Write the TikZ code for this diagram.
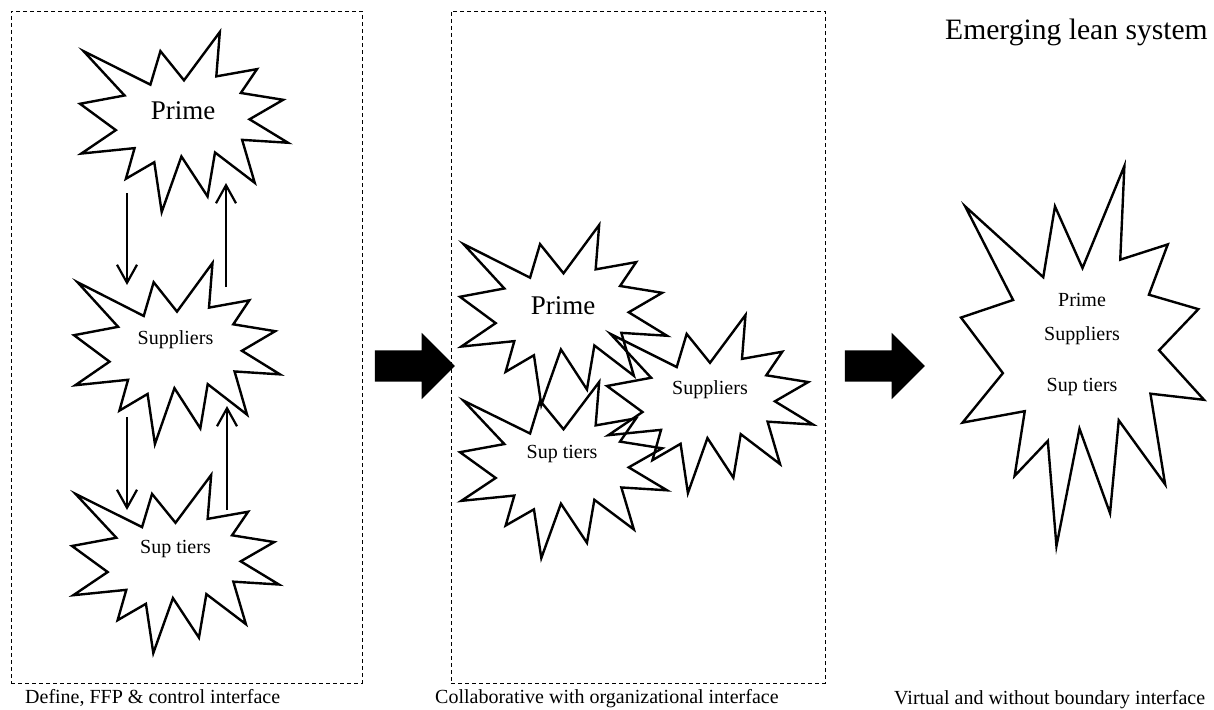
\documentclass[tikz,border=0pt]{standalone}
\usepackage{fontspec}
\setmainfont{Liberation Serif}
\usetikzlibrary{arrows.meta,positioning,shapes.arrows}

% explosion outline, drawn into the box of node #1
\newcommand{\burst}[4]{%
  \node[inner sep=0pt,outer sep=0pt,minimum width=#3pt,minimum height=#4pt] (#1) at #2 {};
  \draw[burstline,shift={(#1.north west)},xscale=#3,yscale=#4]
    (0.5,0.2685) -- (0.6723,0) -- (0.6553,0.2465) -- (0.8509,0.2063) -- (0.7732,0.3387)
    -- (0.9767,0.3767) -- (0.8151,0.4850) -- (1,0.6153) -- (0.7795,0.5992) -- (0.8400,0.8377)
    -- (0.6491,0.6693) -- (0.6133,0.9137) -- (0.4876,0.6914) -- (0.3928,1) -- (0.3572,0.7235)
    -- (0.2205,0.8156) -- (0.2624,0.6452) -- (0.0063,0.6753) -- (0.1723,0.5451) -- (0,0.3988)
    -- (0.2142,0.3526) -- (0.0171,0.1063) -- (0.3385,0.2926) -- (0.3867,0.1063) -- cycle;
}

\tikzset{
  burstline/.style={line width=2.4pt,line join=miter},
  flowline/.style={line width=2.2pt},
  panel/.style={draw,dash pattern=on 4pt off 3pt,line width=0.8pt,inner sep=0pt},
  bigname/.style={font=\fontsize{27}{32}\selectfont,inner sep=0pt},
  smallname/.style={font=\fontsize{20}{24}\selectfont,inner sep=0pt},
  caption/.style={font=\fontsize{20}{24}\selectfont,inner sep=0pt,anchor=base west},
  blockarrow/.style={single arrow,fill=black,inner sep=0pt,text height=31pt,text depth=0pt,
    single arrow head extend=17.5pt,minimum height=80pt}
}

\begin{document}
\begin{tikzpicture}[x=1pt,y=-1pt,>={Straight Barb[length=18pt,width=20pt]}]
  \useasboundingbox (0,0) rectangle (1214,709);
  % panels
  \node[panel,minimum width=351pt,minimum height=672pt] (panelA) at (186.5,347) {};
  \node[panel,minimum width=374pt,minimum height=672pt] (panelB) at (638,347) {};
  \node[caption] (capA) at (25,703) {Define, FFP \& control interface};
  \node[caption] (capB) at (435,703) {Collaborative with organizational interface};
  \node[caption] (capC) at (894,704) {Virtual and without boundary interface};
  \node[font=\fontsize{29.6}{34}\selectfont,inner sep=0pt,anchor=base west] (title) at (945,40) {Emerging lean system};
  % traditional chain
  \burst{primeA}{(184,122)}{208}{180}
  \burst{suppA}{(177,353.5)}{206}{181}
  \burst{tiersA}{(175.5,564)}{207}{178}
  \node[bigname] (primeAtxt) at (183,111) {Prime};
  \node[smallname] (suppAtxt) at (175.5,340) {Suppliers};
  \node[smallname] (tiersAtxt) at (175.5,549) {Sup tiers};
  \draw[->,flowline] ([xshift=-57pt,yshift=19pt]primeA.south) -- ([xshift=-50pt,yshift=-22pt]suppA.north);
  \draw[->,flowline] ([xshift=49pt,yshift=-24pt]suppA.north) -- ([xshift=42pt,yshift=29pt]primeA.south);
  \draw[->,flowline] ([xshift=-50pt,yshift=27pt]suppA.south) -- ([xshift=-48.5pt,yshift=-35pt]tiersA.north);
  \draw[->,flowline] ([xshift=51.5pt,yshift=-35pt]tiersA.north) -- ([xshift=50pt,yshift=38pt]suppA.south);
  % collaborative
  \burst{primeB}{(563.5,315)}{207}{180}
  \burst{suppB}{(710,404)}{206}{178}
  \burst{tiersB}{(563.5,470)}{207}{176}
  \node[bigname] (primeBtxt) at (563,306) {Prime};
  \node[smallname] (suppBtxt) at (710,390) {Suppliers};
  \node[smallname] (tiersBtxt) at (562,454) {Sup tiers};
  % lean system
  \burst{lean}{(1082.5,356)}{243}{380}
  \node[smallname] (leanprime) at (1082,300) {Prime};
  \node[smallname] (leansupp) at (1082,336) {Suppliers};
  \node[smallname] (leantiers) at (1082,387) {Sup tiers};
  % transitions
  \node[blockarrow] (toB) at (407,366) {};
  \node[blockarrow] (toC) at (877,366) {};
\end{tikzpicture}
\end{document}
